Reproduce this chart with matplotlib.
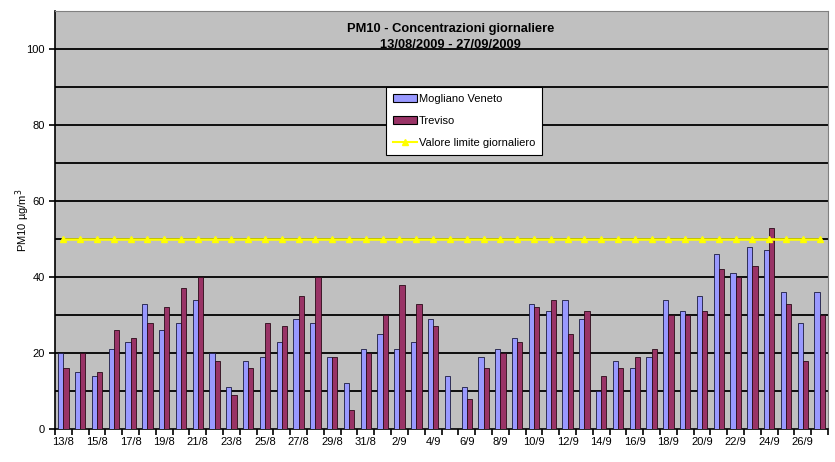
import numpy as np
import matplotlib
matplotlib.use('Agg')
import matplotlib.pyplot as plt
from matplotlib.patches import Patch
from matplotlib.lines import Line2D

plt.rcParams['font.family'] = ['Liberation Sans', 'DejaVu Sans']

# Data: daily PM10 concentrations 13/08/2009 - 27/09/2009
days = [f"{d}/8" for d in range(13, 32)] + [f"{d}/9" for d in range(1, 28)]
mogliano = [20, 15, 14, 21, 23, 33, 26, 28, 34, 20, 11, 18, 19, 23, 29, 28, 19, 12, 21,
            25, 21, 23, 29, 14, 11, 19, 21, 24, 33, 31, 34, 29, 10, 18, 16, 19, 34, 31,
            35, 46, 41, 48, 47, 36, 28, 36]
treviso = [16, 20, 15, 26, 24, 28, 32, 37, 40, 18, 9, 16, 28, 27, 35, 40, 19, 5, 20,
           30, 38, 33, 27, np.nan, 8, 16, 20, 23, 32, 34, 25, 31, 14, 16, 19, 21, 30, 30,
           31, 42, 40, 43, 53, 33, 18, 30]
limit = [50] * len(days)

c_mog = '#9999FF'
c_tre = '#993366'

fig = plt.figure(figsize=(8.35, 4.62), dpi=100)
ax = fig.add_axes([0.0659, 0.0714, 0.9257, 0.905])
ax.set_facecolor('#C0C0C0')

x = np.arange(len(days))
w = 0.31
ax.bar(x - w / 2, mogliano, w, color=c_mog, edgecolor='#1a1a40', linewidth=0.6, zorder=3)
ax.bar(x + w / 2, treviso, w, color=c_tre, edgecolor='#2a0a18', linewidth=0.6, zorder=3)
ax.plot(x, limit, color='#FFFF00', linewidth=1.8, marker='^', markersize=4,
        markerfacecolor='#FFFF00', markeredgecolor='#FFFF00', zorder=4)

ax.set_xlim(-0.5, len(days) - 0.5)
ax.set_ylim(0, 110)

# horizontal grid lines every 10
for g in range(10, 110, 10):
    ax.axhline(g, color='black', linewidth=1.3, zorder=1)

ax.set_yticks(range(0, 101, 20))
ax.tick_params(axis='y', labelsize=8, direction='out', length=4, width=1.2)

# tick marks at category boundaries, labels every second day
ax.set_xticks(np.arange(-0.5, len(days), 1))
ax.set_xticklabels([])
ax.tick_params(axis='x', which='major', direction='out', length=4, width=1.2)
ax.set_xticks(x[::2], minor=True)
ax.set_xticklabels(days[::2], minor=True, fontsize=8)
ax.tick_params(axis='x', which='minor', length=0, pad=6)

for side in ['top', 'right']:
    ax.spines[side].set_color('#808080')
for side in ['left', 'bottom']:
    ax.spines[side].set_color('black')
    ax.spines[side].set_linewidth(1.2)

ax.set_ylabel('PM10 µg/m$^3$', fontsize=8)
ax.yaxis.set_label_coords(-0.03, 0.5)

ax.text(0.512, 0.972, 'PM10 - Concentrazioni giornaliere\n13/08/2009 - 27/09/2009',
        transform=ax.transAxes, ha='center', va='top', fontsize=9.3,
        fontweight='bold', linespacing=1.5, zorder=5)

handles = [Patch(facecolor=c_mog, edgecolor='black', linewidth=0.8),
           Patch(facecolor=c_tre, edgecolor='black', linewidth=0.8),
           Line2D([0], [0], color='#FFFF00', linewidth=1.5, marker='^', markersize=4)]
leg = ax.legend(handles, ['Mogliano Veneto', 'Treviso', 'Valore limite giornaliero'],
                loc='upper left', bbox_to_anchor=(0.428, 0.818), fontsize=8,
                fancybox=False, framealpha=1, edgecolor='black', handlelength=2.2,
                handletextpad=0.2, borderpad=0.6, labelspacing=1.1, borderaxespad=0)
leg.get_frame().set_linewidth(0.8)
leg.set_zorder(6)

fig.savefig('out.png', dpi=100)
